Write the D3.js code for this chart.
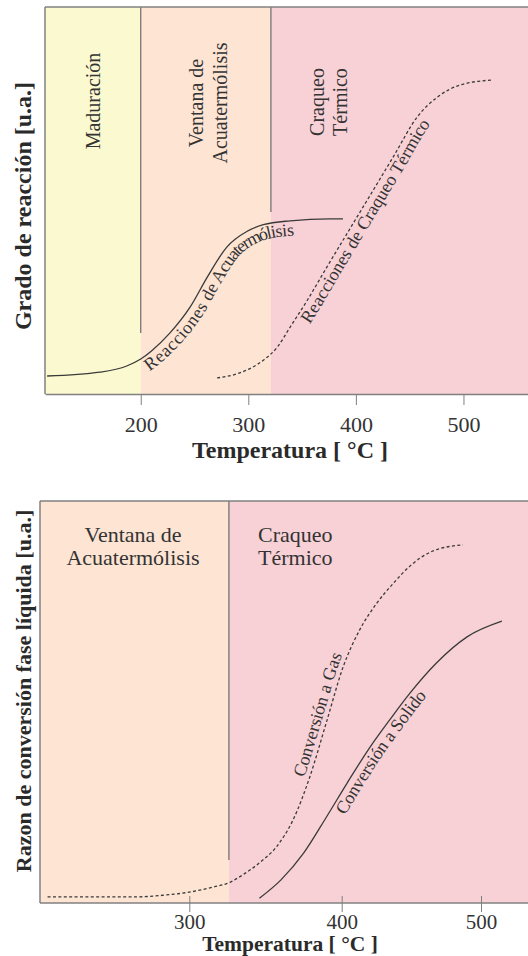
<!DOCTYPE html>
<html lang="es">
<head>
<meta charset="UTF-8">
<title>Grado de reacción</title>
<script src="https://d3js.org/d3.v7.min.js"></script>
<style>
  body { margin: 0; background: #fff; }
  svg text { font-family: "Liberation Serif", "Times New Roman", serif; fill: #333; }
  .titulo { font-weight: bold; fill: #2a2a2a; }
</style>
</head>
<body>
<svg id="chart" width="528" height="956"></svg>
<script>
// ---- datos (grafico superior)
const topTicks = [200, 300, 400, 500];
const topEdges = [111, 200, 321, 560];
const topColors = ["#fbf9cf", "#fde4d3", "#f7d1d6"];
const acuaT = [113, 162, 187, 200, 210, 227, 246, 262, 280, 299, 314, 339, 376, 388];
const acuaY = [4.4, 5.4, 7.0, 8.8, 10.9, 15.5, 22.3, 30.1, 37.8, 41.9, 43.6, 44.6, 45.1, 45.1];
const craqT = [271, 292, 314, 327, 339, 355, 373, 395, 413, 435, 457, 476, 497, 527];
const craqY = [3.9, 5.2, 8.5, 11.9, 17.1, 24.1, 32.6, 42.8, 51.1, 61.3, 71.5, 76.7, 79.8, 81.1];

// ---- datos (grafico inferior)
const botTicks = [300, 400, 500];
const botEdges = [202, 326, 534];
const botColors = ["#fde4d3", "#f7d1d6"];
const gasT = [207, 263, 285, 300, 316, 327, 333, 346, 357, 368, 379, 390, 401, 413, 425, 437, 449, 465, 487];
const gasY = [1.5, 1.5, 2.0, 2.7, 4.0, 5.2, 6.5, 10.0, 13.9, 20.6, 31.3, 45.0, 58.7, 68.0, 74.5, 79.5, 83.8, 87.5, 89.1];
const solT = [346, 360, 375, 390, 404, 420, 435, 449, 468, 490, 515];
const solY = [1.2, 5.7, 12.4, 21.4, 29.9, 38.6, 45.8, 52.2, 59.7, 66.2, 70.1];

const svg = d3.select("#chart");
const gris = "#808080";
const tinta = "#3a3a3a";

function curva(g, x, y, ts, ys, dashed, id) {
  const pts = ts.map((t, i) => [t, ys[i]]);
  const line = d3.line().x(d => x(d[0])).y(d => y(d[1])).curve(d3.curveMonotoneX);
  g.append("path")
    .attr("id", id)
    .attr("d", line(pts))
    .attr("fill", "none")
    .attr("stroke", tinta)
    .attr("stroke-width", 1.3)
    .attr("stroke-dasharray", dashed ? "3,2.4" : null);
}

function etiqueta(g, id, txt, offset, dy) {
  g.append("text")
    .attr("dy", dy)
    .style("font-size", "18px")
    .append("textPath")
    .attr("href", "#" + id)
    .attr("startOffset", offset)
    .text(txt);
}

// ================= grafico superior
const A = {left: 45, right: 528, top: 7, bottom: 394};
const x1 = d3.scaleLinear().domain([111, 560]).range([A.left, A.right]);
const y1 = d3.scaleLinear().domain([0, 100]).range([A.bottom - 1, A.bottom - 1 - 386]);
const g1 = svg.append("g");

g1.selectAll("rect.zona")
  .data(topColors)
  .join("rect")
  .attr("x", (d, i) => x1(topEdges[i]))
  .attr("y", A.top)
  .attr("width", (d, i) => x1(topEdges[i + 1]) - x1(topEdges[i]))
  .attr("height", A.bottom - A.top)
  .attr("fill", d => d);

// separadores
g1.append("line").attr("x1", x1(200)).attr("x2", x1(200)).attr("y1", A.top).attr("y2", 333)
  .attr("stroke", "#6a6a6a").attr("stroke-width", 1.2);
g1.append("line").attr("x1", x1(321)).attr("x2", x1(321)).attr("y1", A.top).attr("y2", 212)
  .attr("stroke", "#6a6a6a").attr("stroke-width", 1.2);

// etiquetas de zona (verticales)
function rotulo(g, cx, cy, lines, size, gap) {
  const t = g.append("text")
    .attr("transform", `translate(${cx},${cy}) rotate(-90)`)
    .attr("text-anchor", "middle")
    .style("font-size", size + "px");
  lines.forEach((l, i) => t.append("tspan").attr("x", 0).attr("y", i * gap).text(l));
}
rotulo(g1, 100, 101, ["Maduración"], 20, 24);
rotulo(g1, 203, 103, ["Ventana de", "Acuatermólisis"], 20, 24);
rotulo(g1, 324, 102, ["Craqueo", "Térmico"], 20, 23);

curva(g1, x1, y1, acuaT, acuaY, false, "acua");
curva(g1, x1, y1, craqT, craqY, true, "craq");
etiqueta(g1, "acua", "Reacciones de Acuatermólisis", 96, 15);
etiqueta(g1, "craq", "Reacciones de Craqueo Térmico", 106, 15);

// marco
g1.append("line").attr("x1", A.left).attr("x2", A.right).attr("y1", A.top).attr("y2", A.top)
  .attr("stroke", gris).attr("stroke-width", 1.5);
g1.append("line").attr("x1", A.left).attr("x2", A.left).attr("y1", A.top).attr("y2", A.bottom)
  .attr("stroke", gris).attr("stroke-width", 1.5);

const ax1 = g1.append("g")
  .attr("transform", `translate(0,${A.bottom})`)
  .call(d3.axisBottom(x1).tickValues(topTicks).tickSize(11).tickSizeOuter(0));
ax1.select(".domain").attr("stroke", gris).attr("stroke-width", 1.5);
ax1.selectAll(".tick line").attr("stroke", gris);
ax1.selectAll(".tick text").attr("y", 38).attr("dy", 0)
  .style("font-size", "22px").style("font-family", "Liberation Serif").attr("fill", "#333");

g1.append("text").attr("class", "titulo")
  .attr("x", 290).attr("y", 458).attr("text-anchor", "middle")
  .style("font-size", "24px").text("Temperatura [ °C ]");
g1.append("text").attr("class", "titulo")
  .attr("transform", "translate(31,206) rotate(-90)").attr("text-anchor", "middle")
  .style("font-size", "24px").text("Grado de reacción [u.a.]");

// ================= grafico inferior
const B = {left: 40, right: 528, top: 501, bottom: 903};
const x2 = d3.scaleLinear().domain([300, 400, 500]).range([189.3, 341.7, 481]);
const y2 = d3.scaleLinear().domain([0, 100]).range([B.bottom, B.bottom - 402]);
const g2 = svg.append("g");

g2.selectAll("rect.zona")
  .data(botColors)
  .join("rect")
  .attr("x", (d, i) => x2(botEdges[i]))
  .attr("y", B.top)
  .attr("width", (d, i) => x2(botEdges[i + 1]) - x2(botEdges[i]))
  .attr("height", B.bottom - B.top)
  .attr("fill", d => d);

g2.append("line").attr("x1", x2(326)).attr("x2", x2(326)).attr("y1", B.top).attr("y2", 860)
  .attr("stroke", "#6a6a6a").attr("stroke-width", 1.2);

g2.append("text").attr("x", 133).attr("y", 542).attr("text-anchor", "middle")
  .style("font-size", "22px").text("Ventana de");
g2.append("text").attr("x", 133).attr("y", 565).attr("text-anchor", "middle")
  .style("font-size", "22px").text("Acuatermólisis");
g2.append("text").attr("x", 258).attr("y", 542).style("font-size", "22px").text("Craqueo");
g2.append("text").attr("x", 258).attr("y", 565).style("font-size", "22px").text("Térmico");

curva(g2, x2, y2, gasT, gasY, true, "gas");
curva(g2, x2, y2, solT, solY, false, "sol");
etiqueta(g2, "gas", "Conversión a Gas", 318, -5);
etiqueta(g2, "sol", "Conversión a Solido", 117, 15);

g2.append("line").attr("x1", B.left).attr("x2", B.right).attr("y1", B.top).attr("y2", B.top)
  .attr("stroke", gris).attr("stroke-width", 1.5);
g2.append("line").attr("x1", B.left).attr("x2", B.left).attr("y1", B.top).attr("y2", B.bottom)
  .attr("stroke", gris).attr("stroke-width", 1.5);

const ax2 = g2.append("g")
  .attr("transform", `translate(0,${B.bottom})`)
  .call(d3.axisBottom(x2).tickValues(botTicks).tickSize(9).tickSizeOuter(0));
ax2.select(".domain").attr("d", `M${B.left},0H${B.right}`).attr("stroke", gris).attr("stroke-width", 1.5);
ax2.selectAll(".tick line").attr("y1", -7).attr("stroke", gris);
ax2.selectAll(".tick text").attr("y", 26).attr("dy", 0)
  .style("font-size", "21px").style("font-family", "Liberation Serif").attr("fill", "#333");

g2.append("text").attr("class", "titulo")
  .attr("x", 290).attr("y", 951).attr("text-anchor", "middle")
  .style("font-size", "21.5px").text("Temperatura [ °C ]");
g2.append("text").attr("class", "titulo")
  .attr("transform", "translate(31,691) rotate(-90)").attr("text-anchor", "middle")
  .style("font-size", "22px").text("Razon de conversión fase líquida [u.a.]");
</script>
</body>
</html>
